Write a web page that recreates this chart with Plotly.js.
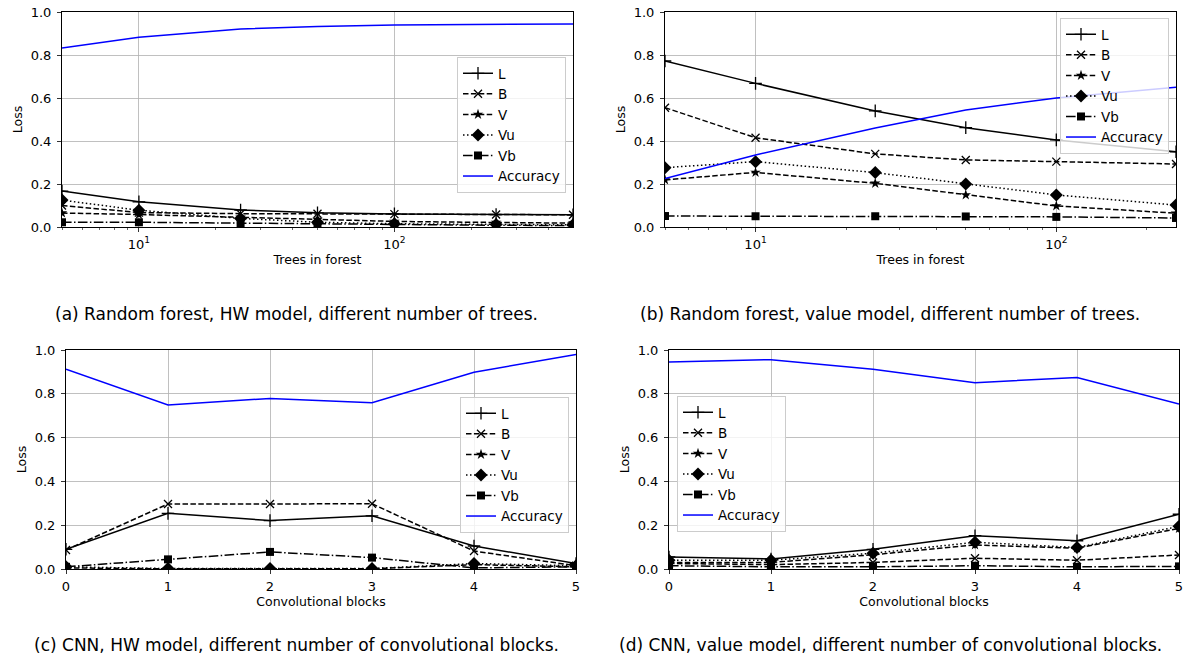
<!DOCTYPE html>
<html>
<head>
<meta charset="utf-8">
<script src="https://cdn.plot.ly/plotly-3.0.1.min.js"></script>
<style>html,body{margin:0;padding:0;background:#fff;}#chart{width:1187px;height:668px;}</style>
</head>
<body>
<div id="chart"></div>
<script>
// ---------- data ----------
const treesA = [5, 10, 25, 50, 100, 250, 500];
const A_L   = [0.167, 0.117, 0.079, 0.066, 0.061, 0.058, 0.057];
const A_B   = [0.100, 0.067, 0.062, 0.062, 0.060, 0.058, 0.057];
const A_V   = [0.065, 0.058, 0.045, 0.035, 0.026, 0.021, 0.018];
const A_Vu  = [0.125, 0.078, 0.040, 0.022, 0.015, 0.012, 0.010];
const A_Vb  = [0.022, 0.022, 0.018, 0.014, 0.010, 0.008, 0.007];
const A_Acc = [0.833, 0.882, 0.921, 0.933, 0.940, 0.943, 0.944];

const treesB = [5, 10, 25, 50, 100, 250];
const B_L   = [0.772, 0.668, 0.540, 0.462, 0.405, 0.350];
const B_B   = [0.555, 0.415, 0.340, 0.312, 0.304, 0.293];
const B_V   = [0.219, 0.254, 0.203, 0.149, 0.098, 0.064];
const B_Vu  = [0.276, 0.304, 0.253, 0.200, 0.149, 0.102];
const B_Vb  = [0.051, 0.050, 0.050, 0.049, 0.047, 0.042];
const B_Acc = [0.226, 0.335, 0.460, 0.544, 0.600, 0.650];

const blocks = [0, 1, 2, 3, 4, 5];
const C_L   = [0.090, 0.254, 0.221, 0.243, 0.105, 0.025];
const C_B   = [0.087, 0.297, 0.297, 0.298, 0.082, 0.015];
const C_V   = [0.005, 0.001, 0.001, 0.001, 0.020, 0.010];
const C_Vu  = [0.010, 0.002, 0.002, 0.002, 0.025, 0.015];
const C_Vb  = [0.010, 0.044, 0.078, 0.052, 0.005, 0.010];
const C_Acc = [0.912, 0.749, 0.779, 0.759, 0.898, 0.980];

const D_L   = [0.055, 0.046, 0.090, 0.152, 0.129, 0.250];
const D_B   = [0.025, 0.020, 0.030, 0.049, 0.040, 0.064];
const D_V   = [0.030, 0.030, 0.065, 0.110, 0.095, 0.185];
const D_Vu  = [0.040, 0.040, 0.072, 0.122, 0.098, 0.195];
const D_Vb  = [0.015, 0.010, 0.010, 0.015, 0.010, 0.012];
const D_Acc = [0.945, 0.956, 0.912, 0.851, 0.874, 0.753];

const seriesNames = ['L', 'B', 'V', 'Vu', 'Vb', 'Accuracy'];
const captions = [
  '(a) Random forest, HW model, different number of trees.',
  '(b) Random forest, value model, different number of trees.',
  '(c) CNN, HW model, different number of convolutional blocks.',
  '(d) CNN, value model, different number of convolutional blocks.'
];
const xTitles = ['Trees in forest', 'Trees in forest', 'Convolutional blocks', 'Convolutional blocks'];
const yTitle = 'Loss';

// ---------- styles ----------
const styles = [
  {dash: 'solid',                   symbol: 'cross-thin', size: 9,  lw: 1.5, color: '#000'},
  {dash: '5.5px,2.4px',             symbol: 'x-thin',     size: 8,  lw: 1.5, color: '#000'},
  {dash: '5.5px,2.4px',             symbol: 'star',       size: 8,  lw: 1.5, color: '#000'},
  {dash: '1.5px,2.5px',             symbol: 'diamond',    size: 10, lw: 1.5, color: '#000'},
  {dash: '9.6px,2.4px,1.5px,2.4px', symbol: 'square',     size: 8,  lw: 1.5, color: '#000'},
  {dash: 'solid',                   symbol: null,         size: 0,  lw: 1.5, color: '#0000ff'}
];

const panels = [
  {x: treesA, ys: [A_L, A_B, A_V, A_Vu, A_Vb, A_Acc]},
  {x: treesB, ys: [B_L, B_B, B_V, B_Vu, B_Vb, B_Acc]},
  {x: blocks, ys: [C_L, C_B, C_V, C_Vu, C_Vb, C_Acc]},
  {x: blocks, ys: [D_L, D_B, D_V, D_Vu, D_Vb, D_Acc]}
];

const traces = [];
panels.forEach((p, i) => {
  const sfx = i === 0 ? '' : String(i + 1);
  p.ys.forEach((y, k) => {
    const s = styles[k];
    const t = {
      type: 'scatter',
      x: p.x, y: y,
      name: seriesNames[k],
      xaxis: 'x' + sfx, yaxis: 'y' + sfx,
      legend: 'legend' + sfx,
      line: {color: s.color, width: s.lw, dash: s.dash},
      hoverinfo: 'skip'
    };
    if (s.symbol) {
      t.mode = 'lines+markers';
      t.marker = {symbol: s.symbol, size: s.size, color: '#000',
                  line: {color: '#000', width: (s.symbol.indexOf('thin') >= 0) ? 1.3 : 0}};
    } else {
      t.mode = 'lines';
    }
    traces.push(t);
  });
});

// ---------- layout ----------
const W = 1187, H = 668;
const font = 'DejaVu Sans, sans-serif';
const tickSize = 13;
const xDomPx = [[62, 573], [665, 1176], [66, 576], [669, 1179]];
const yDomPx = [[12, 227], [12, 227], [350, 569], [350, 569]];
const legendPos = [[566, 57], [1169, 18], [569, 397], [677, 396]];
const legendAnchor = ['right', 'right', 'right', 'left'];

function logMinor(lo, hi) {
  const v = [];
  for (let d = 1; d <= 100; d *= 10) for (let m = 2; m <= 9; m++) {
    const val = m * d; if (val > lo && val < hi) v.push(val);
  }
  return v;
}

const layout = {
  width: W, height: H,
  margin: {l: 0, r: 0, t: 0, b: 0},
  paper_bgcolor: '#fff', plot_bgcolor: '#fff',
  showlegend: true,
  font: {family: font, size: tickSize, color: '#000'},
  annotations: []
};

panels.forEach((p, i) => {
  const sfx = i === 0 ? '' : String(i + 1);
  const xd = xDomPx[i], yd = yDomPx[i];
  const isLog = i < 2;
  const xa = {
    domain: [xd[0] / W, xd[1] / W],
    anchor: 'y' + sfx,
    showgrid: true, gridcolor: '#b0b0b0', gridwidth: 0.8,
    zeroline: false,
    showline: true, mirror: true, linecolor: '#000', linewidth: 1,
    ticks: 'outside', ticklen: 4, tickwidth: 0.8, tickcolor: '#000',
    ticklabelstandoff: 1,
    tickfont: {family: font, size: tickSize, color: '#000'},
    title: {text: xTitles[i], font: {family: font, size: 12.5, color: '#000'}, standoff: 4},
    automargin: false
  };
  if (isLog) {
    const hi = p.x[p.x.length - 1];
    xa.type = 'log';
    xa.range = [Math.log10(p.x[0]), Math.log10(hi)];
    xa.tickmode = 'array';
    xa.tickvals = [10, 100];
    xa.ticktext = ['10<sup>1</sup>', '10<sup>2</sup>'];
    xa.minor = {tickmode: 'array', tickvals: logMinor(p.x[0] - 0.001, hi), ticks: 'outside',
                ticklen: 2, tickwidth: 0.6, tickcolor: '#000', showgrid: false};
  } else {
    xa.range = [0, 5];
    xa.dtick = 1;
  }
  const ya = {
    domain: [1 - yd[1] / H, 1 - yd[0] / H],
    anchor: 'x' + sfx,
    range: [0, 1], dtick: 0.2, tickformat: '.1f',
    showgrid: true, gridcolor: '#b0b0b0', gridwidth: 0.8,
    zeroline: false,
    showline: true, mirror: true, linecolor: '#000', linewidth: 1,
    ticks: 'outside', ticklen: 4, tickwidth: 0.8, tickcolor: '#000',
    ticklabelstandoff: 3,
    tickfont: {family: font, size: tickSize, color: '#000'},
    title: {text: yTitle, font: {family: font, size: 12.5, color: '#000'}, standoff: 5},
    automargin: false
  };
  layout['xaxis' + sfx] = xa;
  layout['yaxis' + sfx] = ya;
  const lp = legendPos[i];
  layout['legend' + sfx] = {
    x: lp[0] / W, y: 1 - lp[1] / H,
    xanchor: legendAnchor[i], yanchor: 'top',
    xref: 'paper', yref: 'paper',
    bgcolor: 'rgba(255,255,255,0.8)', bordercolor: '#cccccc', borderwidth: 1,
    font: {family: font, size: 13.5, color: '#000'},
    tracegroupgap: 0, itemwidth: 30, itemclick: false
  };
  const capX = (i % 2 === 0) ? 297 : 890;
  const capY = (i < 2) ? 314 : 645;
  layout.annotations.push({
    text: captions[i], xref: 'paper', yref: 'paper',
    x: capX / W, y: 1 - capY / H, xanchor: 'center', yanchor: 'middle',
    showarrow: false, font: {family: font, size: 17, color: '#000'}
  });
});

Plotly.newPlot('chart', traces, layout, {staticPlot: true, displayModeBar: false});
</script>
</body>
</html>
